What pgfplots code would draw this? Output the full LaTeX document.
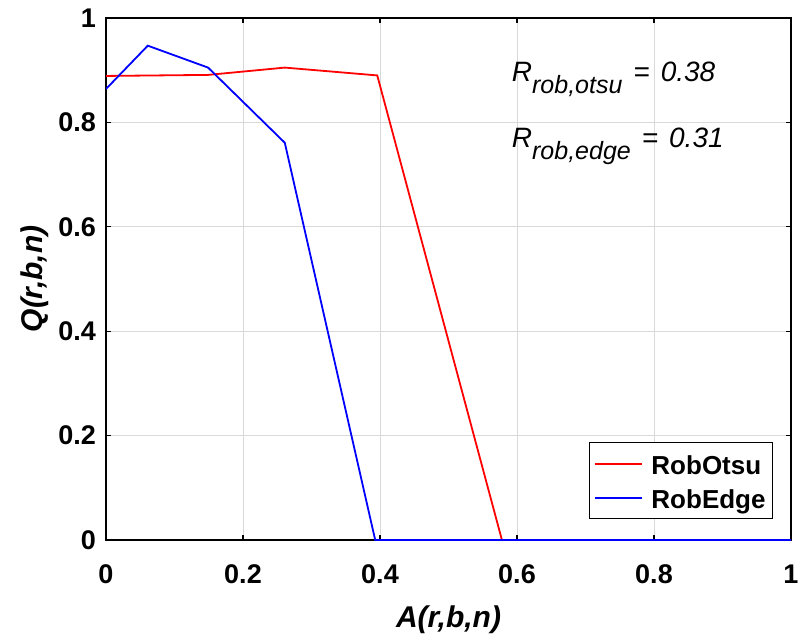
\documentclass[border=0pt]{standalone}
\usepackage{fontspec}
\setmainfont{Liberation Sans}
\usepackage{pgfplots}
\usetikzlibrary{calc}
\pgfplotsset{compat=1.18}
\begin{document}
\begin{tikzpicture}
\begin{axis}[
  scale only axis,
  width=342.5pt, height=261pt,
  xmin=0, xmax=1, ymin=0, ymax=1,
  xtick={0,0.2,0.4,0.6,0.8,1},
  ytick={0,0.2,0.4,0.6,0.8,1},
  xticklabels={0,0.2,0.4,0.6,0.8,1},
  yticklabels={0,0.2,0.4,0.6,0.8,1},
  grid=major,
  major grid style={gray!30, line width=0.5pt},
  tick align=inside,
  major tick length=2.5pt,
  tick style={black, line width=0.6pt},
  axis line style={black, line width=0.8pt},
  ticklabel style={font=\bfseries\fontsize{13.5}{14}\selectfont},
  xticklabel style={anchor=base, yshift=-21.5pt},
  yticklabel style={xshift=-1.5pt},
  xlabel={\bfseries\itshape A(r,b,n)},
  ylabel={\bfseries\itshape Q(r,b,n)},
  label style={font=\fontsize{15}{16}\selectfont},
  xlabel style={at={(axis description cs:0.5,-0.1667)}, anchor=base},
  ylabel style={at={(axis description cs:-0.0934,0.5)}, anchor=base},
  legend style={at={(0.9737,0.0402)}, anchor=south east, draw=black,
    font=\bfseries\fontsize{13}{14}\selectfont, inner sep=2pt, row sep=0pt,
    nodes={text height=11.5pt, text depth=1pt, inner xsep=1.5pt, inner ysep=2.25pt},
    /tikz/every odd column/.append style={column sep=3pt}},
  legend cell align=left,
  legend image code/.code={\draw[#1, line width=0.9pt] (0pt,0pt) -- (23.5pt,0pt);},
]
\addplot[color=red, line width=0.9pt] coordinates {
  (0,0.889) (0.149,0.891) (0.261,0.905) (0.396,0.890) (0.578,0) (1,0)
};
\addlegendentry{RobOtsu}
\addplot[color=blue, line width=0.9pt] coordinates {
  (0,0.864) (0.061,0.947) (0.149,0.905) (0.261,0.761) (0.393,0) (1,0)
};
\addlegendentry{RobEdge}
\node[anchor=base west, inner sep=0pt, font=\itshape\fontsize{14}{15}\selectfont] at (axis cs:0.592,0.878) {R\raisebox{-6pt}{\fontsize{12.5}{13}\selectfont rob,otsu}\hspace{5.5pt}=\hspace{5.5pt}0.38};
\node[anchor=base west, inner sep=0pt, font=\itshape\fontsize{14}{15}\selectfont] at (axis cs:0.592,0.751) {R\raisebox{-6pt}{\fontsize{12.5}{13}\selectfont rob,edge}\hspace{5.5pt}=\hspace{5.5pt}0.31};
\coordinate (sw) at (rel axis cs:0,0);
\coordinate (ne) at (rel axis cs:1,1);
\end{axis}
\pgfresetboundingbox
\path[use as bounding box] ($(sw)+(-53pt,-47pt)$) rectangle ($(ne)+(3.5pt,9pt)$);
\end{tikzpicture}
\end{document}
